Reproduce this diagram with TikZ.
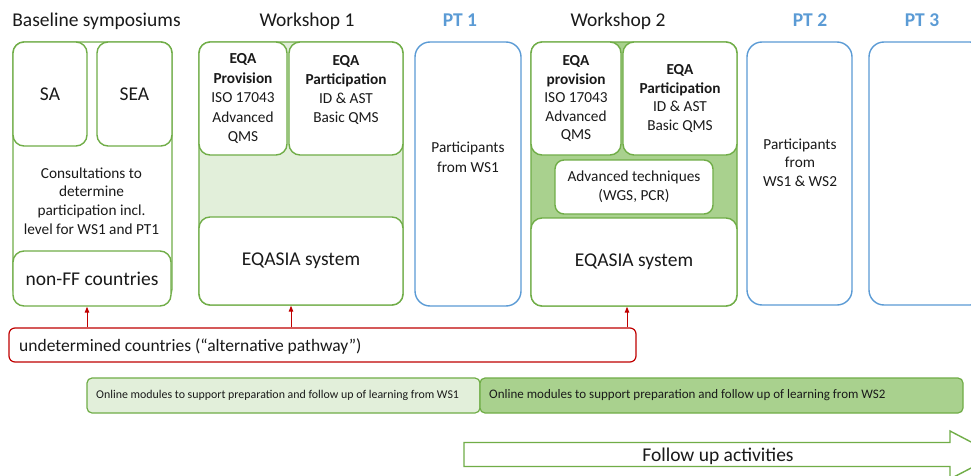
\documentclass[tikz,border=0pt]{standalone}
\usepackage{fontspec}
\setmainfont{Carlito}
\usetikzlibrary{arrows.meta}
\definecolor{gb}{HTML}{70AD47}
\definecolor{lg}{HTML}{E2EFDA}
\definecolor{dg}{HTML}{A9D18E}
\definecolor{bl}{HTML}{5B9BD5}
\definecolor{rd}{HTML}{C00000}
\definecolor{tx}{HTML}{1A1A1A}
\newcommand\rbox[7]{%
  \pgfmathsetmacro\rbW{#5-#3}\pgfmathsetmacro\rbH{#6-#4}%
  \pgfmathsetmacro\rbX{(#3+#5)/2}\pgfmathsetmacro\rbY{(#4+#6)/2}%
  \node[#2,minimum width=\rbW pt,minimum height=\rbH pt] (#1) at (\rbX,\rbY) {#7};}
\begin{document}
\begin{tikzpicture}[x=1pt,y=-1pt,
  every node/.style={text=tx},
  big/.style={font=\fontsize{19.5}{23}\selectfont},
  mid/.style={font=\fontsize{15.3}{19}\selectfont},
  ttl/.style={font=\fontsize{19.5}{23}\selectfont,inner sep=0pt,anchor=base},
  pttl/.style={font=\fontsize{19.5}{23}\selectfont\bfseries,inner sep=0pt,text=bl,anchor=base},
  gbox/.style={draw=gb,line width=1.4pt,rounded corners=11pt,fill=white,inner sep=0pt,align=center},
  pbox/.style={draw=bl,line width=1.4pt,rounded corners=15pt,inner sep=0pt},
  rbx/.style={draw=rd,line width=1.2pt,rounded corners=6pt,fill=white,inner sep=0pt},
  obox/.style={draw=gb,line width=1.2pt,rounded corners=5pt,inner sep=0pt},
  txt/.style={inner sep=0pt,align=center},
  arr/.style={draw=rd,line width=1pt,-{Triangle[width=4.5pt,length=6pt]}},
]
\useasboundingbox (0,0) rectangle (971,476);
\clip (0,0) rectangle (971,476);
\fill[white] (0,0) rectangle (971,476);

% titles
\node[ttl] (t0) at (96.5,26.5) {Baseline symposiums};
\node[ttl] (t1) at (307,26.5) {Workshop 1};
\node[pttl] (t2) at (460,26.5) {PT 1};
\node[ttl] (t3) at (618,26.5) {Workshop 2};
\node[pttl] (t4) at (810,26.5) {PT 2};
\node[pttl] (t5) at (922,26.5) {PT 3};

% baseline symposiums
\rbox{bsym}{gbox}{13}{42}{172}{300}{}
\rbox{sa}{gbox,big}{13}{42}{87}{146}{\raisebox{-1.5pt}{SA}}
\rbox{sea}{gbox,big}{97}{42}{172}{146}{\raisebox{-1.5pt}{SEA}}
\node[txt,font=\fontsize{15.3}{18.7}\selectfont] (cons) at (91.5,201) {Consultations to\\determine\\participation incl.\\level for WS1 and PT1};
\rbox{nonff}{gbox,big}{13}{251}{171}{306}{\raisebox{-1.5pt}{non-FF countries}}

% workshop 1
\rbox{ws1}{gbox,fill=lg}{199}{42}{403}{305}{}
\rbox{prov1}{gbox,font=\fontsize{15.3}{19.5}\selectfont}{199}{42}{287}{155}{\textbf{EQA}\\\textbf{Provision}\\ISO 17043\\Advanced\\QMS}
\rbox{part1}{gbox}{289}{42}{403}{155}{}
\node[txt,mid] (part1t) at (346,89.5) {\textbf{EQA}\\\textbf{Participation}\\ID \& AST\\Basic QMS};
\rbox{eqasia1}{gbox,big}{199}{217}{403}{305}{\raisebox{-1.8pt}{EQASIA system}}

% PT1
\rbox{pt1}{pbox}{415}{42}{521}{306}{}
\node[txt,font=\fontsize{15.3}{20}\selectfont] (pt1t) at (468,157) {Participants\\from WS1};

% workshop 2
\rbox{ws2}{gbox,fill=dg}{531}{42}{737}{306}{}
\rbox{prov2}{gbox,font=\fontsize{15.3}{18.5}\selectfont}{531}{42}{621}{155}{\textbf{EQA}\\\textbf{provision}\\ISO 17043\\Advanced\\QMS}
\rbox{part2}{gbox,font=\fontsize{15.3}{18.5}\selectfont}{623}{42}{737}{155}{\textbf{EQA}\\\textbf{Participation}\\ID \& AST\\Basic QMS}
\rbox{adv}{gbox,mid,rounded corners=9pt}{555}{160}{713}{214}{Advanced techniques\\(WGS, PCR)}
\rbox{eqasia2}{gbox,big}{531}{218}{737}{306}{\raisebox{-1.8pt}{EQASIA system}}

% PT2, PT3
\rbox{pt2}{pbox}{747}{42}{852}{305}{}
\node[txt,font=\fontsize{15.3}{18.5}\selectfont] (pt2t) at (800,162.5) {Participants\\from\\WS1 \& WS2};
\rbox{pt3}{pbox}{869}{42}{985}{305}{}

% undetermined countries
\rbox{und}{rbx}{9}{328}{636}{362}{}
\node[inner sep=0pt,anchor=west,font=\fontsize{17.5}{21}\selectfont] (undt) at (19,346.5) {undetermined countries (“alternative pathway”)};
\draw[arr] ([xshift=-5pt]nonff.south |- und.north) -- ([xshift=-5pt]nonff.south);
\draw[arr] ([xshift=-10pt]eqasia1.south |- und.north) -- ([xshift=-10pt]eqasia1.south);
\draw[arr] ([xshift=-7pt]eqasia2.south |- und.north) -- ([xshift=-7pt]eqasia2.south);

% online modules
\rbox{onl1}{obox,fill=lg}{87}{378}{480}{413}{}
\rbox{onl2}{obox,fill=dg}{480}{378}{963}{413}{}
\node[inner sep=0pt,anchor=west,font=\fontsize{11.9}{14}\selectfont] (onl1t) at (96,395.5) {Online modules to support preparation and follow up of learning from WS1};
\node[inner sep=0pt,anchor=west,font=\fontsize{13}{15}\selectfont] (onl2t) at (489,395.5) {Online modules to support preparation and follow up of learning from WS2};

% follow up arrow
\draw[draw=gb,line width=1.4pt,fill=white] (464,442.5) -- (950,442.5) -- (950,431) -- (996,455) -- (950,479) -- (950,466.5) -- (464,466.5) -- cycle;
\node[big,inner sep=0pt,anchor=base] (fu) at (718,461.5) {Follow up activities};
\end{tikzpicture}
\end{document}
